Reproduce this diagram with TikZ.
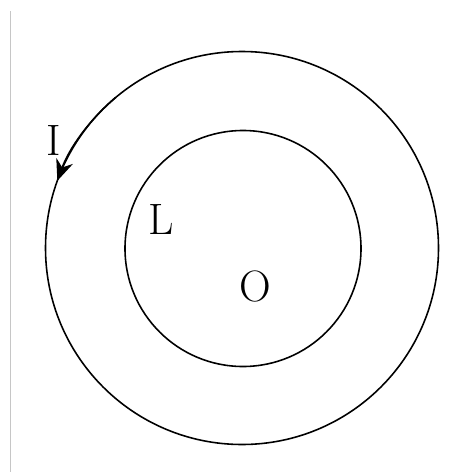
\documentclass[tikz,border=0pt]{standalone}
\usepackage{amsmath}
\usepackage{tikz}
\usetikzlibrary{calc,arrows.meta}

\begin{document}
\begin{tikzpicture}[>={Stealth[length=12pt,width=10pt]},line width=0.9pt]
			\def\R{3.93}
			\def\r{2.36}
			
			\useasboundingbox (0,0) rectangle (9.26,-9.44);
			\draw[gray!45,line width=0.6pt] (0.21,-0.22) -- (0.21,-9.44);
			
			\coordinate (o) at (4.84,-4.96);
			\draw (o) circle (\R);
			\draw ($(o)+(0.02,-0.01)$) circle (\r);
			\draw[->] (o) ++(130:\R) arc (130:160:\R);
			
			\node (t1) at (1.07,-2.8) {\fontsize{25}{30}\selectfont I};
			\node (t2) at (3.22,-4.38) {\fontsize{25}{30}\selectfont L};
			\node (t3) at (5.1,-5.72) {\fontsize{25}{30}\selectfont O};
		\end{tikzpicture}
\end{document}
